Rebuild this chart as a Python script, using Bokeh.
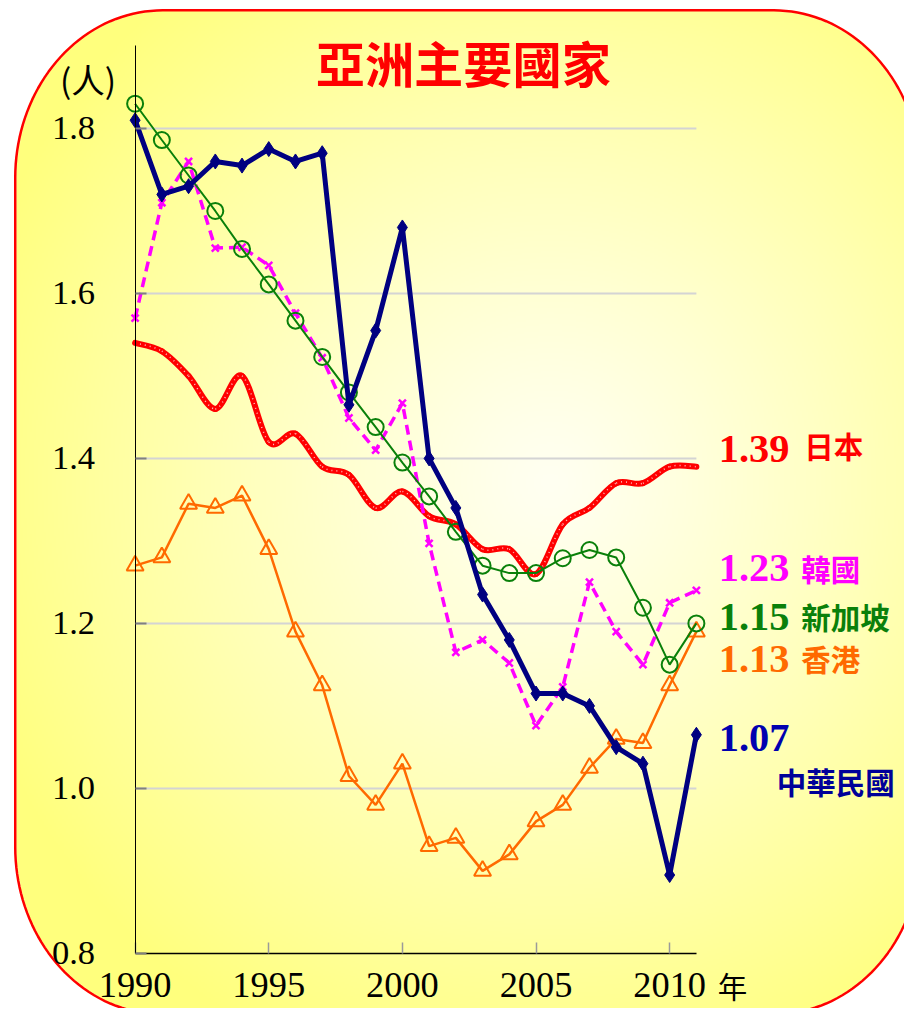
import numpy as np
from bokeh.plotting import figure
from bokeh.models import Range1d, FixedTicker, Label
from bokeh.embed import file_html
from bokeh.resources import INLINE

# ---------------- data ----------------
years = list(range(1990, 2012))
taiwan = [1.81, 1.72, 1.73, 1.76, 1.755, 1.775, 1.76, 1.77, 1.465, 1.555, 1.68,
          1.40, 1.34, 1.235, 1.18, 1.115, 1.115, 1.10, 1.05, 1.03, 0.895, 1.065]
japan = [1.54, 1.53, 1.50, 1.46, 1.50, 1.42, 1.43, 1.39, 1.38, 1.34, 1.36,
         1.33, 1.32, 1.29, 1.29, 1.26, 1.32, 1.34, 1.37, 1.37, 1.39, 1.39]
korea = [1.57, 1.71, 1.76, 1.655, 1.656, 1.634, 1.576, 1.522, 1.449, 1.41, 1.467,
         1.297, 1.165, 1.18, 1.152, 1.076, 1.123, 1.25, 1.19, 1.15, 1.225, 1.24]
singapore = [1.83, 1.786, 1.743, 1.70, 1.654, 1.611, 1.567, 1.523, 1.48, 1.438, 1.395,
             1.354, 1.311, 1.27, 1.261, 1.261, 1.279, 1.289, 1.28, 1.219, 1.15, 1.20]
hongkong = [1.27, 1.28, 1.345, 1.34, 1.355, 1.29, 1.19, 1.125, 1.015, 0.98, 1.03,
            0.93, 0.94, 0.90, 0.92, 0.96, 0.98, 1.025, 1.06, 1.055, 1.125, 1.19]

x_ticks = [1990, 1995, 2000, 2005, 2010]
x_tick_labels = ["1990", "1995", "2000", "2005", "2010"]
y_ticks = [0.8, 1.0, 1.2, 1.4, 1.6, 1.8]
y_tick_labels = ["0.8", "1.0", "1.2", "1.4", "1.6", "1.8"]
grid_ticks = [1.0, 1.2, 1.4, 1.6, 1.8]
x_first, x_last = 1990, 2011

title_text = "亞洲主要國家"
unit_text = "(人)"
year_text = "年"
end_values = ["1.39", "1.23", "1.15", "1.13", "1.07"]
end_names = ["日本", "韓國", "新加坡", "香港", "中華民國"]

# ---------------- layout ----------------
W, H = 904, 1008            # figure size (whole design is 920x1024, scaled to fit)
REF_W, REF_H = 920.0, 1024.0
PPY = 27.2                  # design px per year
PPU = 838.0                 # design px per y unit
x_start = 1990 - 137 / PPY
x_end = x_start + REF_W / PPY
y_end = 1.8 + 130 / PPU
y_start = y_end - REF_H / PPU
S = H / REF_H               # font scale


def X(ref_px):  # design px -> data x
    return x_start + ref_px / PPY


def Y(ref_py):  # design px -> data y
    return y_end - ref_py / PPU


def fs(px):
    return "%.1fpx" % (px * S)


p = figure(width=W, height=H, x_range=Range1d(x_start, x_end),
           y_range=Range1d(y_start, y_end), output_backend="svg",
           toolbar_location=None, min_border=0,
           background_fill_color="white", border_fill_color="white",
           outline_line_color=None)

# ---------------- background (rounded panel with radial gradient) ----------------
L, T, R, B, RX, RY = 15, 10, 937, 1030, 150.0, 170.0
nx, ny = 460, 512
pxs = (np.arange(nx) + 0.5) * (REF_W / nx)
pys = REF_H - (np.arange(ny) + 0.5) * (REF_H / ny)
PX, PY = np.meshgrid(pxs, pys)
CX = np.clip(PX, L + RX, R - RX)
CY = np.clip(PY, T + RY, B - RY)
q = np.sqrt(((PX - CX) / RX) ** 2 + ((PY - CY) / RY) ** 2)
sd = (q - 1.0) * 160.0
alpha = np.clip(0.5 - sd / 2.0, 0, 1)
d = np.sqrt(((PX - 560) / 620.0) ** 2 + ((PY - 490) / 640.0) ** 2)
t = np.clip(d, 0, 1) ** 1.15
blue = 242 - (242 - 125) * t
img = np.zeros((ny, nx), dtype=np.uint32)
view = img.view(dtype=np.uint8).reshape((ny, nx, 4))
view[..., 0] = 255
view[..., 1] = 255
view[..., 2] = blue.astype(np.uint8)
view[..., 3] = (alpha * 255).astype(np.uint8)
p.image_rgba(image=[img], x=x_start, y=y_start, dw=x_end - x_start,
             dh=y_end - y_start, level="image")

# border outline
pts = []
for (cx, cy, a0, a1) in [(R - RX, T + RY, -90, 0), (R - RX, B - RY, 0, 90),
                         (L + RX, B - RY, 90, 180), (L + RX, T + RY, 180, 270)]:
    for a in np.linspace(np.radians(a0), np.radians(a1), 40):
        pts.append((cx + RX * np.cos(a), cy + RY * np.sin(a)))
p.patch([X(u) for u, _ in pts], [Y(v) for _, v in pts], fill_color=None,
        line_color="#FF0000", line_width=2.5, level="image")

# ---------------- axes & grid ----------------
p.xgrid.visible = False
p.ygrid.visible = False
p.segment(x0=[x_first] * len(grid_ticks), x1=[x_last] * len(grid_ticks),
          y0=grid_ticks, y1=grid_ticks, line_color="#D4D4D4", line_width=2,
          level="underlay")

xa = p.xaxis[0]
xa.fixed_location = 0.8
xa.bounds = (x_first, x_last)
xa.ticker = FixedTicker(ticks=x_ticks)
xa.major_label_overrides = dict(zip(x_ticks, x_tick_labels))
xa.major_tick_in = 11
xa.major_tick_out = 0
xa.minor_tick_in = 0
xa.minor_tick_out = 0
xa.major_tick_line_color = "#9A9A9A"
xa.major_tick_line_width = 1.5
xa.axis_line_color = "black"
xa.axis_line_width = 1.5
xa.major_label_text_font = "Liberation Serif"
xa.major_label_text_font_size = fs(37)
xa.major_label_text_color = "black"
xa.major_label_standoff = 20

ya = p.yaxis[0]
ya.fixed_location = x_first
ya.bounds = (0.8, 1.9)
ya.ticker = FixedTicker(ticks=y_ticks)
ya.major_label_overrides = dict(zip(y_ticks, y_tick_labels))
ya.major_tick_in = 11
ya.major_tick_out = 0
ya.minor_tick_in = 0
ya.minor_tick_out = 0
ya.major_tick_line_color = "#808080"
ya.major_tick_line_width = 2
ya.axis_line_color = "black"
ya.axis_line_width = 1
ya.major_label_text_font = "Liberation Serif"
ya.major_label_text_font_size = fs(35)
ya.major_label_text_color = "black"
ya.major_label_standoff = 40

# ---------------- series ----------------
# Japan: smooth thick red line with white dots (Bezier through the data points)
xs = np.array(years, dtype=float)
ys = np.array(japan, dtype=float)
n = len(xs)
x0, y0, x1, y1, c0x, c0y, c1x, c1y = ([] for _ in range(8))
for i in range(n - 1):
    im, ip2 = max(i - 1, 0), min(i + 2, n - 1)
    x0.append(xs[i]); y0.append(ys[i]); x1.append(xs[i + 1]); y1.append(ys[i + 1])
    c0x.append(xs[i] + (xs[i + 1] - xs[im]) / 6); c0y.append(ys[i] + (ys[i + 1] - ys[im]) / 6)
    c1x.append(xs[i + 1] - (xs[ip2] - xs[i]) / 6); c1y.append(ys[i + 1] - (ys[ip2] - ys[i]) / 6)
p.bezier(x0=x0, y0=y0, x1=x1, y1=y1, cx0=c0x, cy0=c0y, cx1=c1x, cy1=c1y,
         line_color="#FF0000", line_width=6, line_cap="round")
p.bezier(x0=x0, y0=y0, x1=x1, y1=y1, cx0=c0x, cy0=c0y, cx1=c1x, cy1=c1y,
         line_color="#FFD0D0", line_width=1.5, line_dash="1 4", line_alpha=0.9)

# Hong Kong
p.line(years, hongkong, line_color="#FF6A00", line_width=2.5)
p.scatter(years, hongkong, marker="triangle", size=17, fill_color=None,
          line_color="#FF6A00", line_width=2)

# Korea
p.line(years, korea, line_color="#FF00FF", line_width=3.5, line_dash="10 6")
p.scatter(years, korea, marker="x", size=10, line_color="#FF00FF", line_width=2.5)

# Singapore
p.line(years, singapore, line_color="#0A800A", line_width=2)
p.scatter(years, singapore, marker="circle", size=16, fill_color=None,
          line_color="#0A800A", line_width=2)

# Taiwan
p.line(years, taiwan, line_color="#000080", line_width=5, line_join="round")
p.scatter(years, taiwan, marker="diamond", size=15, fill_color="#000080",
          line_color="#000080")

# ---------------- texts ----------------
CJK = "Noto Sans CJK TC"
p.add_layout(Label(x=X(471), y=Y(62), text=title_text, text_font=CJK,
                   text_font_size=fs(50), text_font_style="bold",
                   text_color="#FF0000", text_align="center", text_baseline="middle"))
p.add_layout(Label(x=X(89), y=Y(79), text=unit_text, text_font=CJK,
                   text_font_size=fs(34), text_color="black",
                   text_align="center", text_baseline="middle"))
p.add_layout(Label(x=X(730), y=Y(1000), text=year_text, text_font=CJK,
                   text_font_size=fs(30), text_color="black",
                   text_align="left", text_baseline="middle"))

val_colors = ["#FF0000", "#FF00FF", "#0A800A", "#FF6A00", "#0000B0"]
name_colors = ["#FF0000", "#FF00FF", "#0A800A", "#FF6A00", "#000099"]
val_y = [456, 577, 626, 669, 749]
name_x = [818, 815, 815, 815, 790]
name_y = [452, 576, 625, 668, 793]
for v, nm, vc, nc, vy, nxp, nyp in zip(end_values, end_names, val_colors,
                                        name_colors, val_y, name_x, name_y):
    p.add_layout(Label(x=X(731), y=Y(vy), text=v, text_font="Liberation Serif",
                       text_font_size=fs(41), text_font_style="bold",
                       text_color=vc, text_align="left", text_baseline="middle"))
    p.add_layout(Label(x=X(nxp), y=Y(nyp), text=nm, text_font=CJK,
                       text_font_size=fs(30), text_font_style="bold",
                       text_color=nc, text_align="left", text_baseline="middle"))

open("out.html", "w").write(file_html(p, INLINE))
